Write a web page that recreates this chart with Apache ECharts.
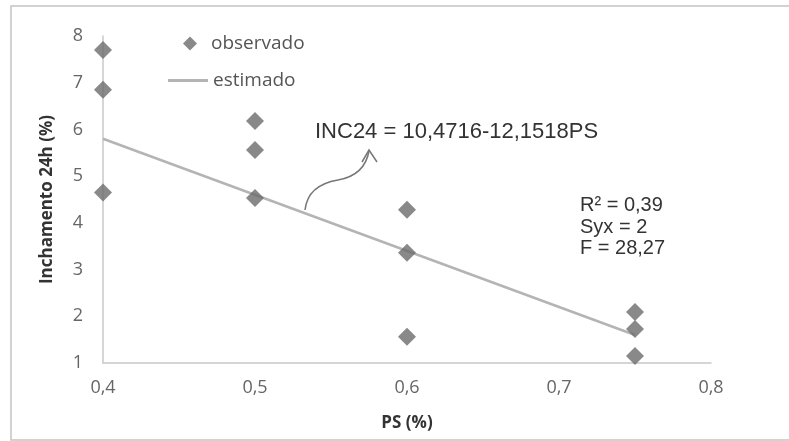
<!DOCTYPE html>
<html>
<head>
<meta charset="utf-8">
<script src="https://cdn.jsdelivr.net/npm/echarts@6/dist/echarts.min.js"></script>
<style>html,body{margin:0;padding:0;background:#fff}#c{width:789px;height:441px}</style>
</head>
<body>
<div id="c"></div>
<script>
// Observed points [PS, Inchamento 24h]
const obsPS = [0.4, 0.4, 0.4, 0.5, 0.5, 0.5, 0.6, 0.6, 0.6, 0.75, 0.75, 0.75];
const obsINC = [7.7, 6.85, 4.65, 6.18, 5.56, 4.53, 4.28, 3.36, 1.56, 2.09, 1.73, 1.15];
// Estimated line (as drawn)
const estPS = [0.4, 0.75];
const estINC = [5.8, 1.6];
const xTicks = [0.4, 0.5, 0.6, 0.7, 0.8];
const yTicks = [1, 2, 3, 4, 5, 6, 7, 8];
const eqText = 'INC24 = 10,4716-12,1518PS';
const statsText = ['R² = 0,39', 'Syx = 2', 'F = 28,27'];

const chart = echarts.init(document.getElementById('c'));
const fmt = v => String(Math.round(v * 10) / 10).replace('.', ',');
const font = '"Open Sans", sans-serif';
chart.setOption({
  animation: false,
  grid: { left: 103, right: 78, top: 36, bottom: 78 },
  xAxis: {
    type: 'value', min: xTicks[0], max: xTicks[xTicks.length - 1], interval: 0.1,
    name: 'PS (%)', nameLocation: 'middle', nameGap: 52,
    nameTextStyle: { fontFamily: font, fontWeight: 'bold', fontSize: 17, color: '#333' },
    axisLine: { lineStyle: { color: '#c8c8c8', width: 1.5 } },
    axisTick: { show: false }, splitLine: { show: false },
    axisLabel: { formatter: fmt, fontFamily: font, fontSize: 18, color: '#666', margin: 16 }
  },
  yAxis: {
    type: 'value', min: yTicks[0], max: yTicks[yTicks.length - 1], interval: 1,
    name: 'Inchamento 24h (%)', nameLocation: 'middle', nameGap: 47,
    nameTextStyle: { fontFamily: font, fontWeight: 'bold', fontSize: 17, color: '#333' },
    axisLine: { lineStyle: { color: '#c8c8c8', width: 1.5 } },
    axisTick: { show: false }, splitLine: { show: false },
    axisLabel: { fontFamily: font, fontSize: 18, color: '#666', margin: 20 }
  },
  legend: [
    { data: ['observado'], left: 178, top: 29, itemWidth: 14, itemHeight: 14,
      textStyle: { fontFamily: font, fontSize: 19, color: '#555', padding: [0, 0, 0, 9] } },
    { data: ['estimado'], left: 163, top: 66, itemWidth: 40, itemHeight: 3, icon: 'rect',
      textStyle: { fontFamily: font, fontSize: 19, color: '#555' } }
  ],
  series: [
    { name: 'estimado', type: 'line', data: estPS.map((x, i) => [x, estINC[i]]),
      showSymbol: false, lineStyle: { color: '#b4b4b4', width: 2.5 }, itemStyle: { color: '#b4b4b4' }, z: 1 },
    { name: 'observado', type: 'scatter', data: obsPS.map((x, i) => [x, obsINC[i]]),
      symbol: 'diamond', symbolSize: 18, itemStyle: { color: '#6b6b6b' }, z: 2 }
  ],
  graphic: [
    { type: 'rect', shape: { x: 11, y: 6, width: 790, height: 434 }, style: { fill: 'none', stroke: '#c4c4c4', lineWidth: 1.5 }, silent: true },
    { type: 'text', x: 315, y: 121, style: { text: eqText, font: '22px "Liberation Sans", Arial, sans-serif', fill: '#333' } },
    { type: 'text', x: 580, y: 195, style: { text: statsText.join('\n'), font: '20px "Liberation Sans", Arial, sans-serif', fill: '#333', lineHeight: 21.5 } },
    { type: 'bezierCurve', shape: { x1: 305, y1: 210, cpx1: 307, cpy1: 192, cpx2: 320, cpy2: 183, x2: 338, y2: 180 },
      style: { fill: 'none', stroke: '#777', lineWidth: 1.5 } },
    { type: 'bezierCurve', shape: { x1: 338, y1: 180, cpx1: 355, cpy1: 177, cpx2: 366, cpy2: 168, x2: 369, y2: 151 },
      style: { fill: 'none', stroke: '#777', lineWidth: 1.5 } },
    { type: 'polyline', shape: { points: [[362, 162], [369, 150], [377, 162]] },
      style: { fill: 'none', stroke: '#777', lineWidth: 1.5 } }
  ]
});
</script>
</body>
</html>
